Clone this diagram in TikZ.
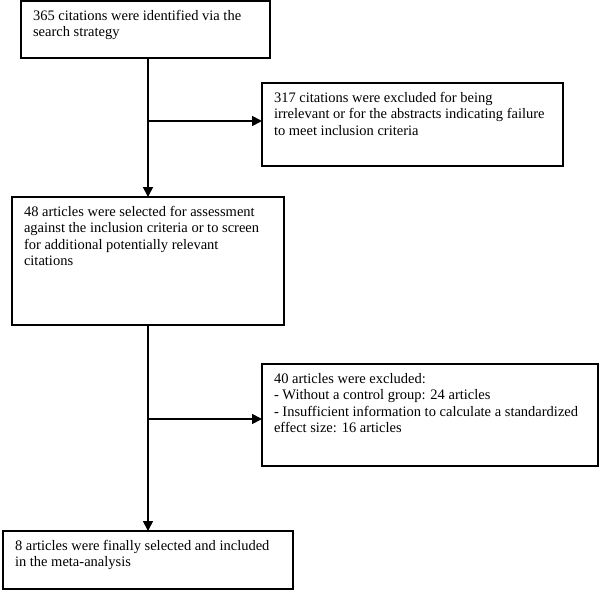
\documentclass[tikz,border=0pt]{standalone}
\usepackage{fontspec}
\setmainfont{Liberation Serif}
\usetikzlibrary{arrows.meta,calc}
\newcommand{\bxt}[3]{\parbox[c][#2][t]{#1}{\raggedright #3}}
\tikzset{
  flowbox/.style={draw, line width=1.7pt, inner xsep=12pt, inner ysep=9pt, outer sep=0pt, anchor=north west, font=\fontsize{14.5}{16.5}\selectfont},
  arr/.style={line width=1.7pt, -{Triangle[length=10pt,width=10pt]}}
}
\begin{document}
\begin{tikzpicture}[x=1pt,y=-1pt]
\useasboundingbox (0,0) rectangle (600,590);
\node[flowbox] (b1) at (21,1) {\bxt{225pt}{39pt}{365 citations were identified via the\\search strategy}};
\node[flowbox] (b2) at (262,83) {\bxt{277pt}{65pt}{317 citations were excluded for being\\irrelevant or for the abstracts indicating failure\\to meet inclusion criteria}};
\node[flowbox] (b3) at (12,197) {\bxt{248pt}{110pt}{48 articles were selected for assessment\\against the inclusion criteria or to screen\\for additional potentially relevant\\citations}};
\node[flowbox] (b4) at (262,364) {\bxt{312pt}{84pt}{40 articles were excluded:\\- Without a control group: 24 articles\\- Insufficient information to calculate a standardized\\effect size: 16 articles}};
\node[flowbox] (b5) at (3,531) {\bxt{266pt}{40pt}{8 articles were finally selected and included\\in the meta-analysis}};
\coordinate (j1) at (148,121);
\coordinate (j2) at (148,419);
\draw[arr] (b1.south -| b3.north) -- (b3.north);
\draw[arr] (j1) -- (j1 -| b2.west);
\draw[arr] (b3.south -| b5.north) -- (b5.north);
\draw[arr] (j2) -- (j2 -| b4.west);
\end{tikzpicture}
\end{document}
